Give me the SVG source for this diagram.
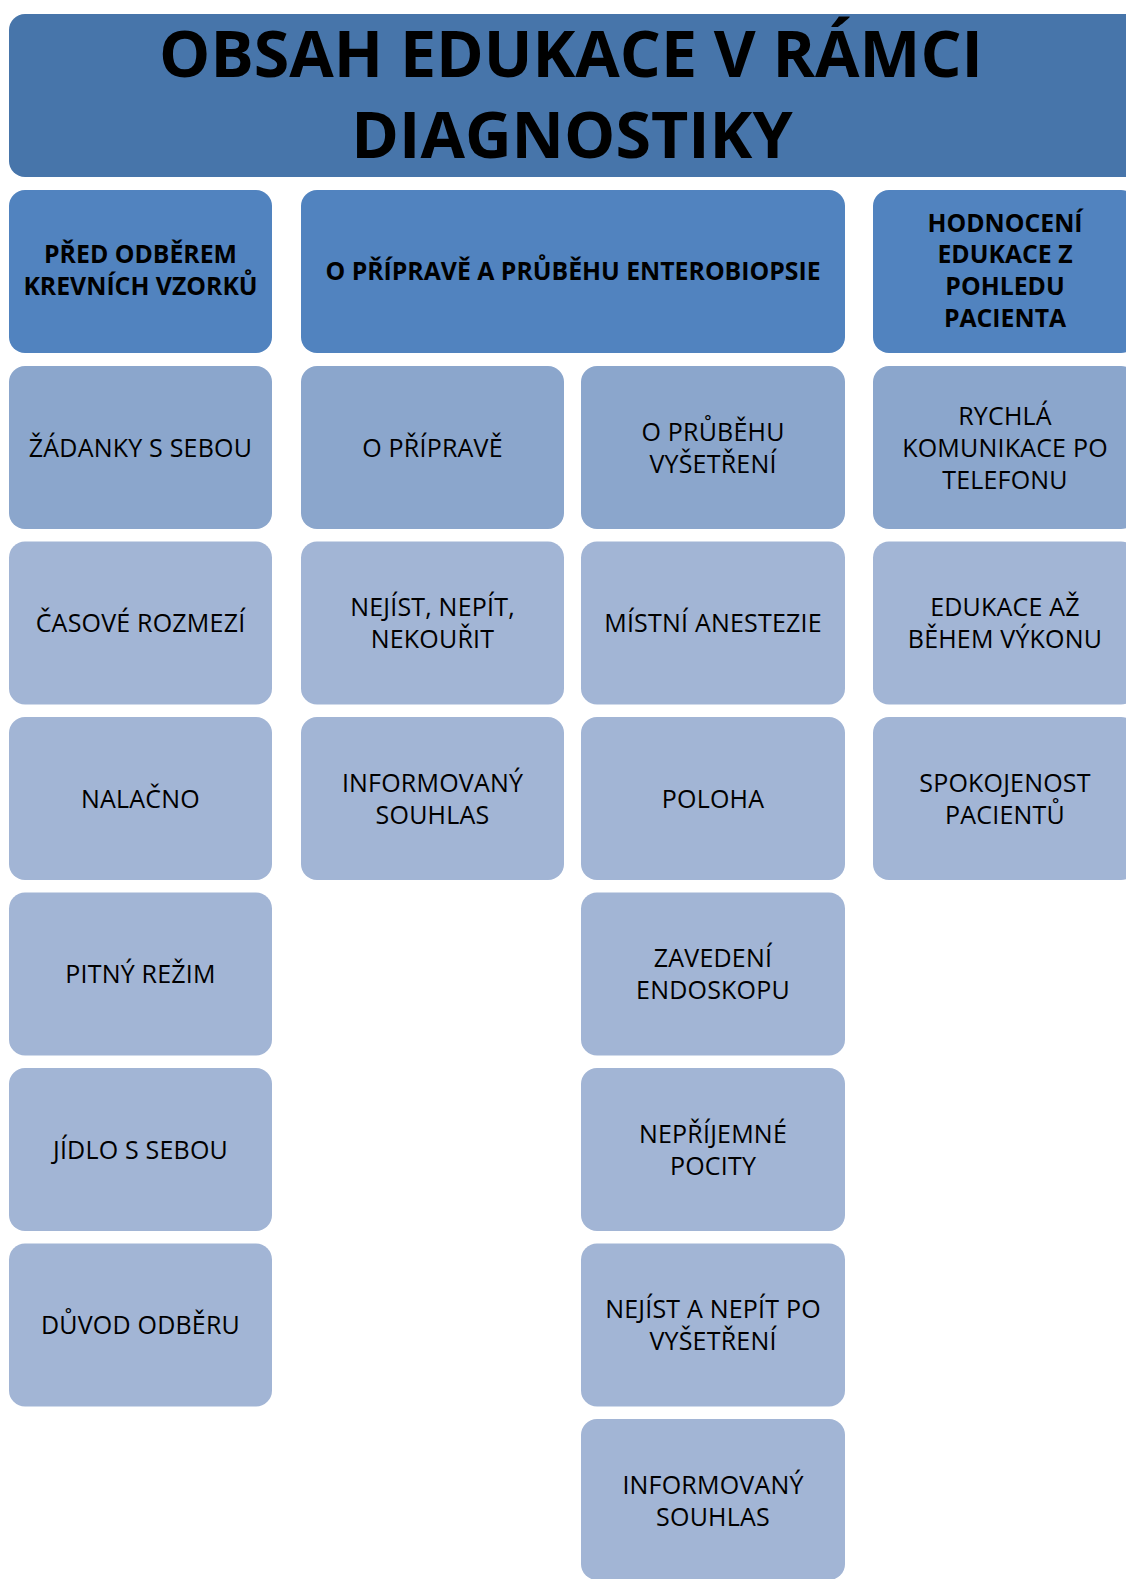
<svg xmlns="http://www.w3.org/2000/svg" width="1126" height="1579" viewBox="0 0 1126 1579">
<style>
.title{fill:#4775AA}
.hdr{fill:#5183BF}
.l1{fill:#8BA6CC}
.l2{fill:#A2B5D5}
text{font-family:"Open Sans","Noto Sans","Liberation Sans",sans-serif;fill:#000;text-anchor:middle}
.tt{font-size:64.5px;font-weight:bold}
.ht{font-size:24.8px;font-weight:bold}
.bt{font-size:25px;letter-spacing:0.2px}
</style>
<rect width="1126" height="1579" fill="#fff"/>
<g id="title">
<rect class="title" x="9" y="14" width="1140" height="163" rx="16"/>
<text class="tt" x="571" y="77">OBSAH EDUKACE V RÁMCI</text>
<text class="tt" x="572" y="158">DIAGNOSTIKY</text>
</g>
<g id="connectors"></g>
<g id="h1"><rect class="hdr" x="9" y="190" width="263" height="163" rx="16"/>
<text class="ht" x="140.5" y="263">PŘED ODBĚREM</text><text class="ht" x="140.5" y="295">KREVNÍCH VZORKŮ</text></g>
<g id="h2"><rect class="hdr" x="301" y="190" width="544" height="163" rx="16"/>
<text class="ht" x="573" y="280">O PŘÍPRAVĚ A PRŮBĚHU ENTEROBIOPSIE</text></g>
<g id="h3"><rect class="hdr" x="873" y="190" width="264" height="163" rx="16"/>
<text class="ht" x="1005" y="231.5">HODNOCENÍ</text><text class="ht" x="1005" y="263">EDUKACE Z</text><text class="ht" x="1005" y="295">POHLEDU</text><text class="ht" x="1005" y="326.5">PACIENTA</text></g>

<g id="r2c1"><rect class="l1" x="9" y="366" width="263" height="163" rx="16"/><text class="bt" x="140.5" y="456.5">ŽÁDANKY S SEBOU</text></g>
<g id="r2c2"><rect class="l1" x="301" y="366" width="263" height="163" rx="16"/><text class="bt" x="432.5" y="456.5">O PŘÍPRAVĚ</text></g>
<g id="r2c3"><rect class="l1" x="581" y="366" width="264" height="163" rx="16"/><text class="bt" x="713" y="440.5">O PRŮBĚHU</text><text class="bt" x="713" y="472.5">VYŠETŘENÍ</text></g>
<g id="r2c4"><rect class="l1" x="873" y="366" width="264" height="163" rx="16"/><text class="bt" x="1005" y="424.5">RYCHLÁ</text><text class="bt" x="1005" y="456.5">KOMUNIKACE PO</text><text class="bt" x="1005" y="488.5">TELEFONU</text></g>

<g id="r3c1"><rect class="l2" x="9" y="541.5" width="263" height="163" rx="16"/><text class="bt" x="140.5" y="632">ČASOVÉ ROZMEZÍ</text></g>
<g id="r3c2"><rect class="l2" x="301" y="541.5" width="263" height="163" rx="16"/><text class="bt" x="432.5" y="616">NEJÍST, NEPÍT,</text><text class="bt" x="432.5" y="648">NEKOUŘIT</text></g>
<g id="r3c3"><rect class="l2" x="581" y="541.5" width="264" height="163" rx="16"/><text class="bt" x="713" y="632">MÍSTNÍ ANESTEZIE</text></g>
<g id="r3c4"><rect class="l2" x="873" y="541.5" width="264" height="163" rx="16"/><text class="bt" x="1005" y="616">EDUKACE AŽ</text><text class="bt" x="1005" y="648">BĚHEM VÝKONU</text></g>

<g id="r4c1"><rect class="l2" x="9" y="717" width="263" height="163" rx="16"/><text class="bt" x="140.5" y="807.5">NALAČNO</text></g>
<g id="r4c2"><rect class="l2" x="301" y="717" width="263" height="163" rx="16"/><text class="bt" x="432.5" y="791.5">INFORMOVANÝ</text><text class="bt" x="432.5" y="823.5">SOUHLAS</text></g>
<g id="r4c3"><rect class="l2" x="581" y="717" width="264" height="163" rx="16"/><text class="bt" x="713" y="807.5">POLOHA</text></g>
<g id="r4c4"><rect class="l2" x="873" y="717" width="264" height="163" rx="16"/><text class="bt" x="1005" y="791.5">SPOKOJENOST</text><text class="bt" x="1005" y="823.5">PACIENTŮ</text></g>

<g id="r5c1"><rect class="l2" x="9" y="892.5" width="263" height="163" rx="16"/><text class="bt" x="140.5" y="983">PITNÝ REŽIM</text></g>
<g id="r5c3"><rect class="l2" x="581" y="892.5" width="264" height="163" rx="16"/><text class="bt" x="713" y="967">ZAVEDENÍ</text><text class="bt" x="713" y="999">ENDOSKOPU</text></g>

<g id="r6c1"><rect class="l2" x="9" y="1068" width="263" height="163" rx="16"/><text class="bt" x="140.5" y="1158.5">JÍDLO S SEBOU</text></g>
<g id="r6c3"><rect class="l2" x="581" y="1068" width="264" height="163" rx="16"/><text class="bt" x="713" y="1142.5">NEPŘÍJEMNÉ</text><text class="bt" x="713" y="1174.5">POCITY</text></g>

<g id="r7c1"><rect class="l2" x="9" y="1243.5" width="263" height="163" rx="16"/><text class="bt" x="140.5" y="1334">DŮVOD ODBĚRU</text></g>
<g id="r7c3"><rect class="l2" x="581" y="1243.5" width="264" height="163" rx="16"/><text class="bt" x="713" y="1318">NEJÍST A NEPÍT PO</text><text class="bt" x="713" y="1350">VYŠETŘENÍ</text></g>

<g id="r8c3"><rect class="l2" x="581" y="1419" width="264" height="161" rx="16"/><text class="bt" x="713" y="1494">INFORMOVANÝ</text><text class="bt" x="713" y="1526">SOUHLAS</text></g>
</svg>
